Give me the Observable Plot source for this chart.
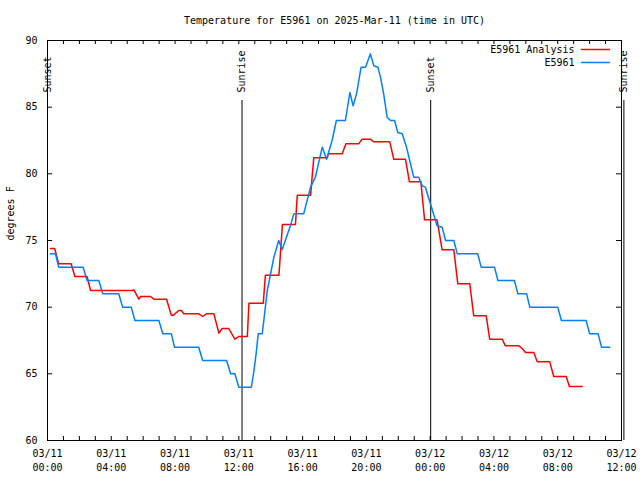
<!DOCTYPE html>
<html>
<head>
<meta charset="utf-8">
<script src="https://cdn.jsdelivr.net/npm/d3@7"></script>
<script src="https://cdn.jsdelivr.net/npm/@observablehq/plot@0.6"></script>
<style>
  html, body { margin: 0; padding: 0; background: #fff; }
  #chart { width: 640px; height: 480px; }
</style>
</head>
<body>
<div id="chart"></div>
<script>
// ---- Data (UTC) ----
const titleText = "Temperature for E5961 on 2025-Mar-11 (time in UTC)";
const yLabel = "degrees F";
const seriesNames = ["E5961 Analysis", "E5961"];
const seriesColors = ["#ff0000", "#0080ff"];

const analysisTimes = [
  "2025-03-11T00:11Z","2025-03-11T00:27Z","2025-03-11T00:42Z","2025-03-11T01:29Z","2025-03-11T01:43Z",
  "2025-03-11T02:29Z","2025-03-11T02:42Z","2025-03-11T05:19Z","2025-03-11T05:25Z","2025-03-11T05:44Z",
  "2025-03-11T05:50Z","2025-03-11T06:28Z","2025-03-11T06:40Z","2025-03-11T07:28Z","2025-03-11T07:46Z",
  "2025-03-11T07:54Z","2025-03-11T08:14Z","2025-03-11T08:24Z","2025-03-11T08:33Z","2025-03-11T09:29Z",
  "2025-03-11T09:44Z","2025-03-11T09:58Z","2025-03-11T10:26Z","2025-03-11T10:45Z","2025-03-11T10:57Z",
  "2025-03-11T11:22Z","2025-03-11T11:45Z","2025-03-11T12:00Z","2025-03-11T12:32Z","2025-03-11T12:38Z",
  "2025-03-11T13:32Z","2025-03-11T13:40Z","2025-03-11T14:31Z","2025-03-11T14:44Z","2025-03-11T15:33Z",
  "2025-03-11T15:40Z","2025-03-11T16:30Z","2025-03-11T16:42Z","2025-03-11T17:33Z","2025-03-11T17:37Z",
  "2025-03-11T18:29Z","2025-03-11T18:43Z","2025-03-11T19:31Z","2025-03-11T19:44Z","2025-03-11T20:15Z",
  "2025-03-11T20:28Z","2025-03-11T21:28Z","2025-03-11T21:43Z","2025-03-11T22:27Z","2025-03-11T22:42Z",
  "2025-03-11T23:25Z","2025-03-11T23:39Z","2025-03-12T00:26Z","2025-03-12T00:45Z","2025-03-12T01:29Z",
  "2025-03-12T01:44Z","2025-03-12T02:29Z","2025-03-12T02:44Z","2025-03-12T03:31Z","2025-03-12T03:44Z",
  "2025-03-12T04:31Z","2025-03-12T04:43Z","2025-03-12T05:34Z","2025-03-12T05:46Z","2025-03-12T05:59Z",
  "2025-03-12T06:30Z","2025-03-12T06:43Z","2025-03-12T07:30Z","2025-03-12T07:45Z","2025-03-12T08:32Z",
  "2025-03-12T08:44Z","2025-03-12T09:32Z"
];
const analysisValues = [
  74.4,74.4,73.25,73.25,72.3,
  72.3,71.25,71.25,71.3,70.6,
  70.8,70.8,70.6,70.6,69.4,
  69.4,69.75,69.75,69.5,69.5,
  69.3,69.5,69.5,68.05,68.4,
  68.4,67.6,67.8,67.8,70.3,
  70.3,72.4,72.4,76.2,76.2,
  78.4,78.4,81.2,81.2,81.5,
  81.5,82.25,82.25,82.6,82.6,
  82.4,82.4,81.1,81.1,79.4,
  79.4,76.55,76.55,74.3,74.3,
  71.75,71.75,69.35,69.35,67.6,
  67.6,67.1,67.1,66.9,66.6,
  66.6,65.9,65.9,64.8,64.8,
  64.05,64.05
];

const obsTimes = [
  "2025-03-11T00:11Z","2025-03-11T00:30Z","2025-03-11T00:42Z","2025-03-11T02:14Z","2025-03-11T02:29Z",
  "2025-03-11T03:13Z","2025-03-11T03:28Z","2025-03-11T04:28Z","2025-03-11T04:43Z","2025-03-11T05:15Z",
  "2025-03-11T05:29Z","2025-03-11T06:59Z","2025-03-11T07:14Z","2025-03-11T07:46Z","2025-03-11T07:58Z",
  "2025-03-11T09:29Z","2025-03-11T09:44Z","2025-03-11T11:14Z","2025-03-11T11:29Z","2025-03-11T11:45Z",
  "2025-03-11T12:00Z","2025-03-11T12:47Z","2025-03-11T12:56Z","2025-03-11T13:05Z","2025-03-11T13:13Z",
  "2025-03-11T13:28Z","2025-03-11T13:34Z","2025-03-11T13:47Z","2025-03-11T14:12Z","2025-03-11T14:30Z",
  "2025-03-11T14:43Z","2025-03-11T15:14Z","2025-03-11T15:27Z","2025-03-11T16:04Z","2025-03-11T16:30Z",
  "2025-03-11T16:48Z","2025-03-11T17:14Z","2025-03-11T17:30Z","2025-03-11T17:51Z","2025-03-11T18:07Z",
  "2025-03-11T18:41Z","2025-03-11T18:58Z","2025-03-11T19:10Z","2025-03-11T19:23Z","2025-03-11T19:40Z",
  "2025-03-11T19:57Z","2025-03-11T20:15Z","2025-03-11T20:28Z","2025-03-11T20:43Z","2025-03-11T20:53Z",
  "2025-03-11T21:05Z","2025-03-11T21:18Z","2025-03-11T21:31Z","2025-03-11T21:46Z","2025-03-11T21:58Z",
  "2025-03-11T22:15Z","2025-03-11T22:31Z","2025-03-11T22:52Z","2025-03-11T22:58Z","2025-03-11T23:17Z",
  "2025-03-11T23:30Z","2025-03-11T23:42Z","2025-03-12T00:01Z","2025-03-12T00:26Z","2025-03-12T00:45Z",
  "2025-03-12T00:58Z","2025-03-12T01:29Z","2025-03-12T01:42Z","2025-03-12T02:59Z","2025-03-12T03:12Z",
  "2025-03-12T04:02Z","2025-03-12T04:15Z","2025-03-12T05:17Z","2025-03-12T05:30Z","2025-03-12T06:03Z",
  "2025-03-12T06:15Z","2025-03-12T08:00Z","2025-03-12T08:14Z","2025-03-12T09:47Z","2025-03-12T10:00Z",
  "2025-03-12T10:32Z","2025-03-12T10:45Z","2025-03-12T11:16Z"
];
const obsValues = [
  74,74,73,73,72,
  72,71,71,70,70,
  69,69,68,68,67,
  67,66,66,65,65,
  64,64,65.1,66.5,68,
  68,69,71.25,73.75,75,
  74.3,76.1,77,77,79,
  79.75,82,81.1,82.5,84,
  84,86.1,85.1,86,88,
  88,89,88.1,88,87.25,
  86,84.25,84,84,83.1,
  83,82,80.25,79.75,79.75,
  79.1,79,77.75,76.1,76,
  75,75,74,74,73,
  73,72,72,71,71,
  70,70,69,69,68,
  68,67,67
];

const sunTimes = ["2025-03-11T00:00Z","2025-03-11T12:12Z","2025-03-12T00:02Z","2025-03-12T12:09Z"];
const sunLabels = ["Sunset","Sunrise","Sunset","Sunrise"];

const yTicks = [60, 65, 70, 75, 80, 85, 90];
const xStart = "2025-03-11T00:00Z";
const xEnd = "2025-03-12T12:00Z";

// ---- Build tables ----
const analysis = analysisTimes.map((t, i) => ({time: new Date(t), value: analysisValues[i]}));
const obs = obsTimes.map((t, i) => ({time: new Date(t), value: obsValues[i]}));
const sun = sunTimes.map((t, i) => ({time: new Date(t), label: sunLabels[i]}));

const start = new Date(xStart), end = new Date(xEnd);
const hourTicks = d3.utcHour.every(1).range(start, new Date(+end + 1));
const labelTicks = d3.utcHour.every(4).range(start, new Date(+end + 1));

const W = 640, H = 480, mL = 47, mR = 19, mT = 40, mB = 40;
const pw = W - mL - mR, ph = H - mT - mB;
const fmt = d3.utcFormat("%m/%d\n%H:%M");
const lineShape = {draw(c, l) { c.moveTo(0, 0); c.lineTo(0, -l); }};

const chart = Plot.plot({
  width: W, height: H,
  marginLeft: mL, marginRight: mR, marginTop: mT, marginBottom: mB,
  style: {fontFamily: "'DejaVu Sans Mono', monospace", fontSize: "10px", color: "#000", background: "#fff", overflow: "visible"},
  x: {type: "utc", domain: [start, end]},
  y: {domain: [60, 90]},
  marks: [
    // inward ticks
    Plot.tickY(yTicks, {y: d => d, insetRight: pw - 5, stroke: "#000"}),
    Plot.tickY(yTicks, {y: d => d, insetLeft: pw - 5, stroke: "#000"}),
    Plot.tickX(hourTicks, {x: d => d, insetTop: ph - 4, stroke: "#000"}),
    Plot.tickX(hourTicks, {x: d => d, insetBottom: ph - 4, stroke: "#000"}),
    Plot.axisY({ticks: yTicks, tickSize: 0, tickPadding: 10, label: null}),
    Plot.axisX({ticks: labelTicks, tickSize: 0, tickPadding: 7, tickFormat: d => fmt(d), label: null, lineHeight: 1.4}),
    // sunrise / sunset
    Plot.ruleX(sun, {x: "time", insetTop: 60, stroke: "#000", strokeWidth: 1}),
    Plot.text(sun, {x: "time", text: "label", frameAnchor: "top", dy: 52, rotate: -90, textAnchor: "start", lineAnchor: "middle", fill: "#000"}),
    // series
    Plot.line(analysis, {x: "time", y: "value", stroke: seriesColors[0], strokeWidth: 1.5}),
    Plot.line(obs, {x: "time", y: "value", stroke: seriesColors[1], strokeWidth: 1.5}),
    Plot.frame({stroke: "#000"}),
    // title and y label
    Plot.text([titleText], {frameAnchor: "top", dy: -20, lineAnchor: "middle", fill: "#000"}),
    Plot.text([yLabel], {frameAnchor: "left", dx: -37, rotate: -90, lineAnchor: "middle", fill: "#000"}),
    // legend
    Plot.text([seriesNames[0]], {frameAnchor: "top-right", dx: -47, dy: 9, textAnchor: "end", lineAnchor: "middle", fill: "#000"}),
    Plot.text([seriesNames[1]], {frameAnchor: "top-right", dx: -47, dy: 22, textAnchor: "end", lineAnchor: "middle", fill: "#000"}),
    Plot.vector([0], {frameAnchor: "top-right", dx: -12, dy: 9, rotate: 90, length: 28, anchor: "end", shape: lineShape, stroke: seriesColors[0], strokeWidth: 1.5}),
    Plot.vector([0], {frameAnchor: "top-right", dx: -12, dy: 22, rotate: 90, length: 28, anchor: "end", shape: lineShape, stroke: seriesColors[1], strokeWidth: 1.5})
  ]
});
document.getElementById("chart").appendChild(chart);
</script>
</body>
</html>
